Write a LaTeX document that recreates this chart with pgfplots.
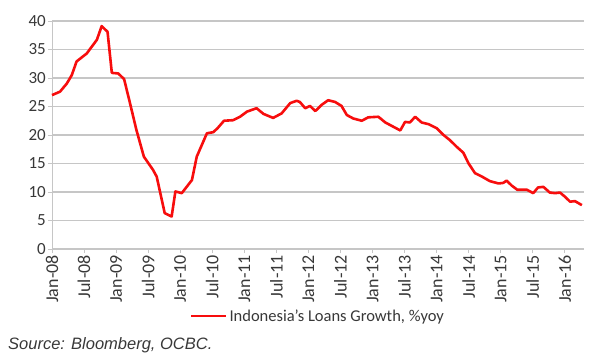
\documentclass[border=0pt]{standalone}
\usepackage{fontspec}
\setmainfont{Carlito}
\newfontfamily\arialfont{Liberation Sans}
\usepackage{pgfplots}
\pgfplotsset{compat=1.18}
\definecolor{txt}{HTML}{383838}
\definecolor{grd}{HTML}{C6C6C6}
\definecolor{lred}{HTML}{F70D0D}
\begin{document}
\begin{tikzpicture}[x=1pt,y=1pt]
\useasboundingbox (0,0) rectangle (600,360);
\begin{axis}[
  at={(52pt,111pt)}, anchor=south west,
  scale only axis, width=532pt, height=228pt,
  xmin=0, xmax=99.6, ymin=0, ymax=40,
  axis x line=bottom, axis y line=left,
  axis line style={-, draw=grd, line width=1pt},
  ytick={0,5,...,40},
  xtick={0,6,...,96},
  xticklabels={Jan-08,Jul-08,Jan-09,Jul-09,Jan-10,Jul-10,Jan-11,Jul-11,Jan-12,Jul-12,Jan-13,Jul-13,Jan-14,Jul-14,Jan-15,Jul-15,Jan-16},
  x tick label style={rotate=90, anchor=east, font=\fontsize{18}{18}\selectfont, text=txt, inner sep=2pt},
  y tick label style={font=\fontsize{17}{17}\selectfont, text=txt, inner sep=2pt},
  /pgf/number format/assume math mode=true,
  tick align=outside, major tick length=4pt,
  tick style={draw=grd, line width=1pt},
  ymajorgrids, grid style={draw=grd, line width=1.3pt},
  clip=false,
  legend style={at={(0.5,-0.294)}, anchor=center, draw=none, fill=none,
    font=\fontsize{16.5}{16}\selectfont, text=txt, inner sep=0pt,
    /tikz/every even column/.append style={column sep=0pt}},
  legend image code/.code={\draw[#1, line width=2.5pt] (0pt,0pt) -- (35pt,0pt);},
]
\addplot[lred, line width=2.6pt, line join=round] coordinates {
(0,27.0) (1.5,27.6) (2.75,29.0) (3.7,30.5) (4.6,32.9) (6.5,34.3) (8.4,36.7)
(9.3,39.1) (10.4,38.1) (11.2,30.9) (12.4,30.8) (13.5,29.8) (14.6,25.6)
(15.8,20.9) (17.2,16.2) (18.9,13.9) (19.6,12.7) (21.1,6.3) (22.4,5.7)
(23.1,10.1) (24.3,9.8) (26.2,12.1) (27.1,16.2) (29.0,20.3) (30.2,20.5)
(31.0,21.2) (32.2,22.5) (33.9,22.6) (35.2,23.2) (36.5,24.1) (38.3,24.7)
(39.6,23.7) (41.4,23.0) (43.0,23.8) (44.6,25.6) (45.8,26.0) (46.4,25.8)
(47.4,24.7) (48.3,25.1) (49.3,24.2) (50.5,25.3) (51.7,26.1) (53.0,25.8)
(54.2,25.1) (55.2,23.5) (56.4,22.9) (58.0,22.5) (59.2,23.1) (61.1,23.2)
(62.4,22.2) (63.6,21.6) (65.2,20.8) (66.1,22.3) (67.0,22.2) (68.0,23.2)
(69.2,22.2) (70.5,21.9) (72.0,21.2) (73.3,20.0) (74.5,19.1) (75.8,17.9)
(77.0,16.9) (78.0,15.0) (79.2,13.3) (80.5,12.7) (82.0,11.9) (83.6,11.5)
(84.5,11.6) (85.1,12.0) (86.1,11.1) (87.1,10.4) (88.9,10.4) (90.1,9.8)
(91.0,10.8) (92.0,10.9) (93.2,9.9) (94.2,9.8) (95.1,9.9) (96.0,9.2)
(97.0,8.3) (97.9,8.4) (99.2,7.7)
};
\addlegendentry{Indonesia's Loans Growth, \%yoy}
\end{axis}
\node[anchor=west, inner sep=0pt, text=txt, font=\arialfont\itshape\fontsize{16.5}{16}\selectfont] at (8,15) {Source: Bloomberg, OCBC.};
\end{tikzpicture}
\end{document}
